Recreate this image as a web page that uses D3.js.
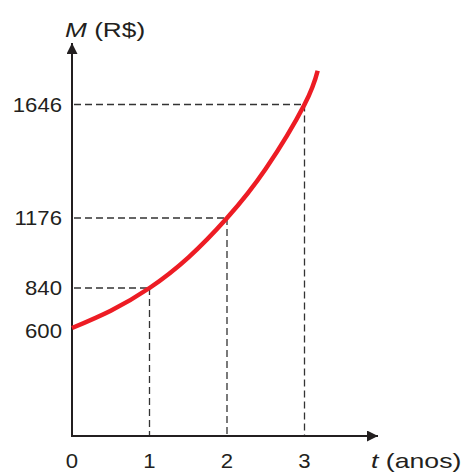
<!DOCTYPE html>
<html>
<head>
<meta charset="utf-8">
<script src="https://cdn.jsdelivr.net/npm/d3@7"></script>
<style>
	body { margin: 0; background: #fff; }
	text { font-family: "Liberation Sans", Arial, sans-serif; fill: #231f20; }
</style>
</head>
<body>
<div id="chart"></div>
<script>
// montante M (R$) em funcao do tempo t (anos)
const tempos = [0, 0.5, 1, 1.5, 2, 2.5, 3, 3.17];
const montantes = [600, 704, 840, 986, 1176, 1380, 1646, 1786];
const xTicks = [0, 1, 2, 3];
const yTicks = [600, 840, 1176, 1646];

const W = 466, H = 472;
const svg = d3.select('#chart').append('svg')
	.attr('width', W)
	.attr('height', H);

const x = d3.scaleLinear()
	.domain([0, 3])
	.range([72, 304.5]);

// the drawing is schematic: the y axis is not to scale, so map each marked value
const y = d3.scaleLinear()
	.domain([0, 600, 840, 1176, 1646, 1786])
	.range([436, 328, 288, 218, 104.5, 70.7]);

const data = tempos.map((t, i) => ({ t: t, m: montantes[i] }));
const marcados = data.filter(d => d.t > 0 && xTicks.includes(d.t));

const ink = '#231f20';

// dashed guide lines
const guides = svg.append('g')
	.attr('stroke', '#333')
	.attr('stroke-width', 1.3)
	.attr('stroke-dasharray', '7,4')
	.attr('fill', 'none');

guides.selectAll('line.h')
	.data(marcados)
	.enter().append('line')
	.attr('class', 'h')
	.attr('x1', x(0) + 2)
	.attr('x2', d => x(d.t))
	.attr('y1', d => y(d.m))
	.attr('y2', d => y(d.m));

guides.selectAll('line.v')
	.data(marcados)
	.enter().append('line')
	.attr('class', 'v')
	.attr('x1', d => x(d.t))
	.attr('x2', d => x(d.t))
	.attr('y1', d => y(d.m))
	.attr('y2', y(0) - 1);

// axes
svg.append('defs').append('marker')
	.attr('id', 'arrow')
	.attr('viewBox', '0 0 10 10')
	.attr('refX', 10)
	.attr('refY', 5)
	.attr('markerUnits', 'userSpaceOnUse')
	.attr('markerWidth', 11)
	.attr('markerHeight', 11)
	.attr('orient', 'auto')
	.append('path')
	.attr('d', 'M0,0 L10,5 L0,10 Z')
	.attr('fill', ink);

svg.append('line')
	.attr('x1', x(0)).attr('y1', y(0))
	.attr('x2', 378).attr('y2', y(0))
	.attr('stroke', ink)
	.attr('stroke-width', 2)
	.attr('marker-end', 'url(#arrow)');

svg.append('line')
	.attr('x1', x(0)).attr('y1', y(0) + 1)
	.attr('x2', x(0)).attr('y2', 43)
	.attr('stroke', ink)
	.attr('stroke-width', 2)
	.attr('marker-end', 'url(#arrow)');

// curve
const line = d3.line()
	.x(d => x(d.t))
	.y(d => y(d.m))
	.curve(d3.curveNatural);

svg.append('path')
	.datum(data)
	.attr('d', line)
	.attr('fill', 'none')
	.attr('stroke', '#ed1c24')
	.attr('stroke-width', 4.5);

// tick labels (the original lettering is a bit wider than Liberation Sans)
svg.selectAll('text.xt')
	.data(xTicks)
	.enter().append('text')
	.attr('class', 'xt')
	.attr('transform', d => `translate(${x(d)},468) scale(1.08,1)`)
	.attr('text-anchor', 'middle')
	.attr('font-size', 20.5)
	.text(d => d);

svg.selectAll('text.yt')
	.data(yTicks)
	.enter().append('text')
	.attr('class', 'yt')
	.attr('transform', d => `translate(62,${y(d) + (d === 600 ? 3 : 0)}) scale(1.08,1)`)
	.attr('dy', '0.35em')
	.attr('text-anchor', 'end')
	.attr('font-size', 20.5)
	.text(d => d);

// axis titles
const ty = svg.append('text')
	.attr('transform', 'translate(65,37) scale(1.28,1)')
	.attr('font-size', 20.5);
ty.append('tspan').attr('font-style', 'italic').text('M');
ty.append('tspan').text(' (R$)');

const tx = svg.append('text')
	.attr('transform', 'translate(371,468) scale(1.3,1)')
	.attr('font-size', 20.5);
tx.append('tspan').attr('font-style', 'italic').text('t');
tx.append('tspan').text(' (anos)');
</script>
</body>
</html>
